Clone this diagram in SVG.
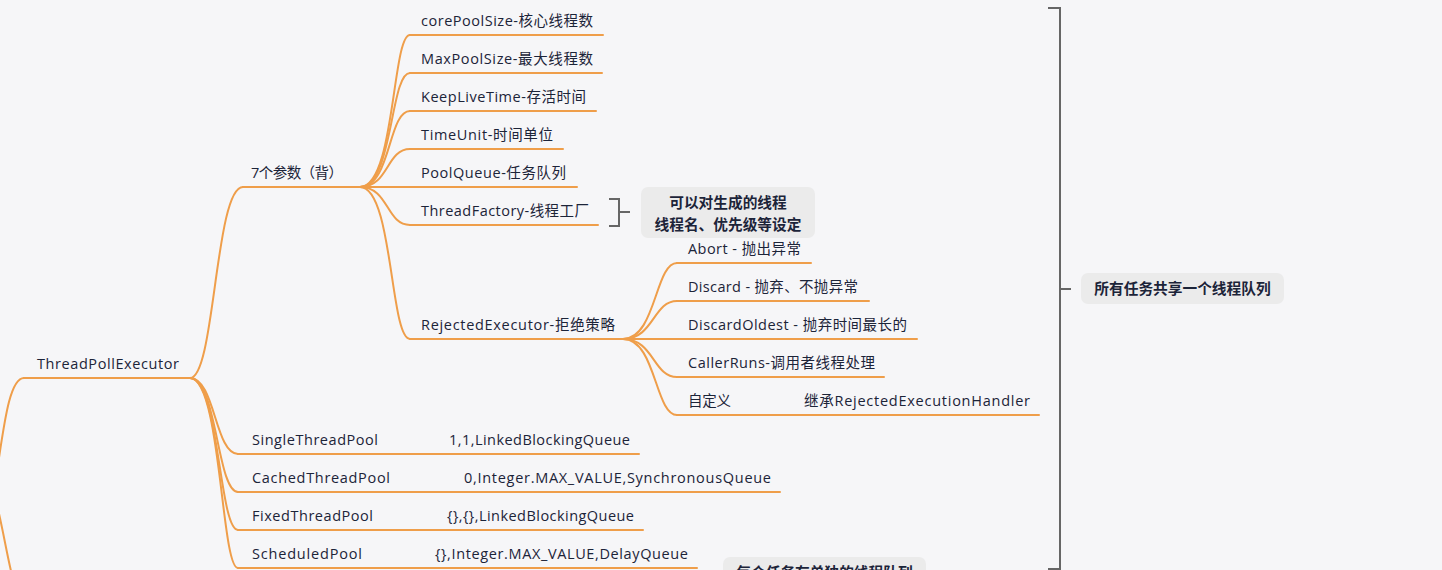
<svg xmlns="http://www.w3.org/2000/svg" width="1442" height="570" viewBox="0 0 1442 570">
<style>
.bg{fill:#f6f6f8}
.ln{fill:none;stroke:#ef9e4a;stroke-width:2;stroke-linecap:round}
.t{font-family:"Open Sans","Noto Sans CJK SC",sans-serif;font-size:14.5px;fill:#1c2439}
.lb{font-family:"Open Sans","Noto Sans CJK SC",sans-serif;font-size:14.7px;font-weight:bold;fill:#1c2439;text-anchor:middle}
.br{fill:none;stroke:#666;stroke-width:2}
.box{fill:#ebebeb}
</style>
<rect class="bg" width="1442" height="570"/>
<g id="connectors">
<path class="ln" d="M-8,500 C2,450 6,378 24,378"/>
<path class="ln" d="M-3,505 C3,530 8,560 12,575"/>
<path class="ln" d="M190,378 C215,378 215,187 243,187"/>
<path class="ln" d="M190,378 C215,378 215,454 238,454"/>
<path class="ln" d="M190,378 C217,378 217,492 238,492"/>
<path class="ln" d="M190,378 C219,378 219,530 238,530"/>
<path class="ln" d="M190,378 C221,378 221,568 238,568"/>
<path class="ln" d="M360,187 C395,187 392,35 410,35"/>
<path class="ln" d="M360,187 C393,187 390,73 410,73"/>
<path class="ln" d="M360,187 C391,187 388,111 410,111"/>
<path class="ln" d="M360,187 C389,187 386,149 410,149"/>
<path class="ln" d="M360,187 L410,187"/>
<path class="ln" d="M360,187 C389,187 386,225 410,225"/>
<path class="ln" d="M360,187 C393,187 390,339 410,339"/>
<path class="ln" d="M623,339 C656,339 655,263 677,263"/>
<path class="ln" d="M623,339 C654,339 653,301 677,301"/>
<path class="ln" d="M623,339 L677,339"/>
<path class="ln" d="M623,339 C654,339 653,377 677,377"/>
<path class="ln" d="M623,339 C656,339 655,415 677,415"/>
</g>
<g id="root"><text class="t" x="37" y="369" textLength="142">ThreadPollExecutor</text><path class="ln" d="M24,378 H190"/></g>
<g id="params"><text class="t" x="251" y="178" textLength="92">7个参数（背）</text><path class="ln" d="M243,187 H360"/></g>
<g id="corePoolSize"><text class="t" x="421" y="26" textLength="172">corePoolSize-核心线程数</text><path class="ln" d="M410,35 H603"/></g>
<g id="maxPoolSize"><text class="t" x="421" y="64" textLength="172">MaxPoolSize-最大线程数</text><path class="ln" d="M410,73 H602"/></g>
<g id="keepLiveTime"><text class="t" x="421" y="102" textLength="165">KeepLiveTime-存活时间</text><path class="ln" d="M410,111 H596"/></g>
<g id="timeUnit"><text class="t" x="421" y="140" textLength="132">TimeUnit-时间单位</text><path class="ln" d="M410,149 H563"/></g>
<g id="poolQueue"><text class="t" x="421" y="178" textLength="145">PoolQueue-任务队列</text><path class="ln" d="M410,187 H577"/></g>
<g id="threadFactory"><text class="t" x="421" y="216" textLength="168">ThreadFactory-线程工厂</text><path class="ln" d="M410,225 H598"/></g>
<g id="threadFactoryNote">
<path class="br" d="M609,199 H619 V226 H609 M619,212 H630"/>
<rect class="box" x="641" y="187" width="174" height="51" rx="7"/>
<text class="lb" x="728" y="208">可以对生成的线程</text>
<text class="lb" x="728" y="229.5">线程名、优先级等设定</text>
</g>
<g id="rejected"><text class="t" x="421" y="330" textLength="194">RejectedExecutor-拒绝策略</text><path class="ln" d="M410,339 H623"/></g>
<g id="abort"><text class="t" x="688" y="254" textLength="113">Abort - 抛出异常</text><path class="ln" d="M677,263 H811"/></g>
<g id="discard"><text class="t" x="688" y="292" textLength="170">Discard - 抛弃、不抛异常</text><path class="ln" d="M677,301 H869"/></g>
<g id="discardOldest"><text class="t" x="688" y="330" textLength="219">DiscardOldest - 抛弃时间最长的</text><path class="ln" d="M677,339 H917"/></g>
<g id="callerRuns"><text class="t" x="688" y="368" textLength="187">CallerRuns-调用者线程处理</text><path class="ln" d="M677,377 H884"/></g>
<g id="custom"><text class="t" x="688" y="406" textLength="43">自定义</text><text class="t" x="804" y="406" textLength="226">继承RejectedExecutionHandler</text><path class="ln" d="M677,415 H1039"/></g>
<g id="single"><text class="t" x="252" y="445" textLength="126">SingleThreadPool</text><text class="t" x="449" y="445" textLength="181">1,1,LinkedBlockingQueue</text><path class="ln" d="M238,454 H639"/></g>
<g id="cached"><text class="t" x="252" y="483" textLength="138">CachedThreadPool</text><text class="t" x="464" y="483" textLength="307">0,Integer.MAX_VALUE,SynchronousQueue</text><path class="ln" d="M238,492 H780"/></g>
<g id="fixed"><text class="t" x="252" y="521" textLength="121">FixedThreadPool</text><text class="t" x="447" y="521" textLength="187">{},{},LinkedBlockingQueue</text><path class="ln" d="M238,530 H643"/></g>
<g id="scheduled"><text class="t" x="252" y="559" textLength="110">ScheduledPool</text><text class="t" x="435" y="559" textLength="253">{},Integer.MAX_VALUE,DelayQueue</text><path class="ln" d="M238,568 H697"/></g>
<g id="sharedQueue">
<path class="br" d="M1048,8 H1060 V569 H1048 M1060,289 H1071"/>
<rect class="box" x="1081" y="273" width="203" height="31" rx="7"/>
<text class="lb" x="1182.5" y="294">所有任务共享一个线程队列</text>
</g>
<g id="ownQueue">
<rect class="box" x="723" y="557" width="203" height="31" rx="7"/>
<text class="lb" x="824.5" y="578">每个任务有单独的线程队列</text>
</g>
</svg>
